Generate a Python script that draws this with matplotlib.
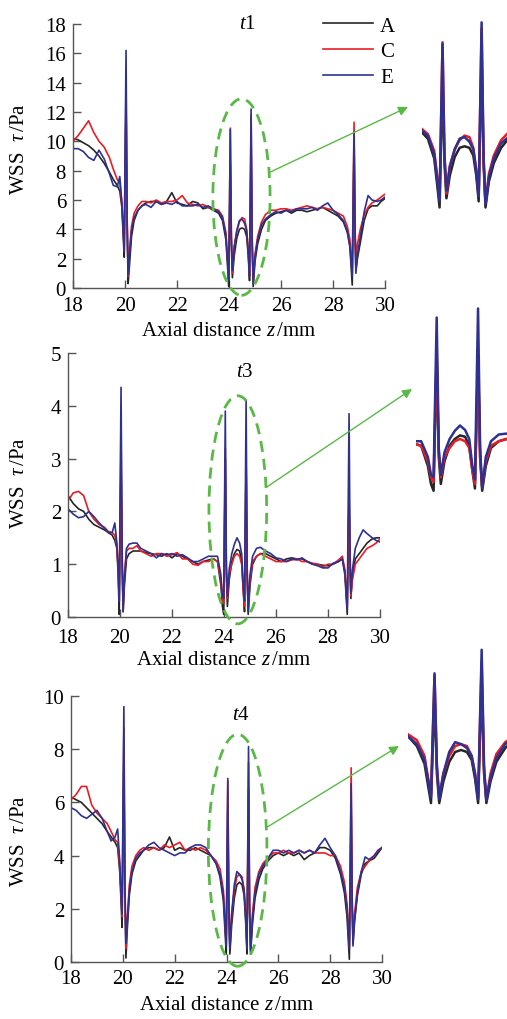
import matplotlib
matplotlib.use("Agg")
import matplotlib.pyplot as plt
from matplotlib.patches import Ellipse

plt.rcParams["font.family"] = ["Liberation Serif", "DejaVu Serif"]
plt.rcParams["mathtext.fontset"] = "custom"
plt.rcParams["mathtext.rm"] = "Liberation Serif"
plt.rcParams["mathtext.it"] = "Liberation Serif:italic"

# Axial positions (mm), shared by all curves
z = [18.0, 18.2, 18.4, 18.6, 18.8, 19.0, 19.2, 19.4, 19.55, 19.7, 19.8, 19.88, 19.93, 19.97,
     20.04, 20.08, 20.12, 20.17, 20.25, 20.35, 20.5, 20.65,
     20.8, 21.0, 21.2, 21.4, 21.6, 21.8, 22.0, 22.2, 22.4, 22.6, 22.8, 23.0, 23.2, 23.4, 23.6,
     23.75, 23.88, 23.94, 23.99, 24.05, 24.09, 24.13, 24.2, 24.3, 24.4, 24.5, 24.6, 24.68,
     24.74, 24.79, 24.85, 24.89, 24.93, 25.0, 25.1, 25.25, 25.4, 25.6,
     25.8, 26.0, 26.2, 26.4, 26.6, 26.8, 27.0, 27.2, 27.4, 27.6, 27.8, 28.0, 28.2, 28.4,
     28.55, 28.65, 28.74, 28.81, 28.85, 28.88, 28.94, 29.05, 29.2, 29.35, 29.5, 29.7, 29.85, 30.0]

# WSS (Pa) at t1
t1_A = [10.2, 10.1, 9.9, 9.7, 9.4, 9.0, 8.5, 7.9, 7.4, 7.0, 6.6, 5.5, 3.6, 2.1,
        12.8, 4.5, 0.3, 1.5, 3.5, 4.6, 5.3, 5.6,
        5.8, 5.9, 5.9, 5.7, 5.9, 6.5, 5.8, 5.7, 5.6, 5.9, 5.8, 5.4, 5.5, 5.3, 5.1,
        4.6, 3.3, 1.6, 0.1, 8.5, 3.0, 0.7, 2.2, 3.4, 4.0, 4.1, 4.0, 3.5,
        2.2, 0.5, 10.0, 3.0, 0.1, 1.8, 3.0, 4.0, 4.6, 4.9,
        5.1, 5.2, 5.3, 5.1, 5.3, 5.3, 5.2, 5.3, 5.4, 5.5, 5.3, 5.1, 4.9, 4.5,
        3.8, 2.8, 0.2, 9.8, 3.5, 1.2, 2.0, 3.1, 4.6, 5.4, 5.6, 5.6, 5.9, 6.1]
t1_C = [10.0, 10.4, 10.9, 11.4, 10.6, 10.0, 9.6, 8.9, 8.1, 7.4, 7.2, 5.8, 4.0, 2.6,
        14.0, 4.8, 0.8, 2.5, 4.2, 5.1, 5.6, 5.9,
        5.9, 5.8, 6.0, 5.8, 5.9, 5.9, 6.0, 6.3, 5.8, 5.7, 5.6, 5.7, 5.5, 5.4, 5.3,
        4.9, 3.8, 2.2, 0.6, 10.9, 3.5, 1.0, 2.8, 3.9, 4.5, 4.8, 4.7, 4.0,
        2.6, 0.9, 11.8, 3.3, 0.4, 2.3, 3.5, 4.5, 5.0, 5.3,
        5.3, 5.4, 5.4, 5.3, 5.4, 5.5, 5.6, 5.5, 5.4, 5.5, 5.4, 5.3, 5.1, 4.9,
        4.2, 3.3, 1.0, 11.3, 4.0, 2.0, 3.0, 4.0, 5.0, 5.5, 5.8, 6.0, 6.2, 6.4]
t1_E = [9.5, 9.5, 9.3, 8.9, 8.7, 9.4, 8.8, 7.8, 7.0, 6.9, 7.6, 5.8, 4.0, 2.5,
        16.2, 5.0, 0.9, 2.2, 3.9, 4.8, 5.3, 5.6,
        5.7, 5.5, 5.9, 5.7, 5.8, 5.7, 5.9, 5.6, 5.6, 5.6, 5.7, 5.5, 5.6, 5.4, 5.2,
        4.8, 3.6, 2.0, 0.5, 10.8, 3.5, 1.2, 2.8, 3.9, 4.6, 4.7, 4.4, 3.9,
        2.5, 0.8, 12.2, 3.5, 0.3, 2.1, 3.3, 4.3, 4.7, 5.0,
        5.2, 5.1, 5.3, 5.2, 5.4, 5.4, 5.4, 5.5, 5.3, 5.6, 5.8, 5.3, 5.0, 4.6,
        3.9, 2.9, 0.8, 10.6, 3.8, 1.0, 2.3, 3.5, 5.2, 6.3, 6.0, 5.9, 6.0, 6.2]

# WSS (Pa) at t3
t3_A = [2.3, 2.15, 2.05, 2.0, 1.85, 1.75, 1.7, 1.65, 1.6, 1.55, 1.45, 1.3, 0.8, 0.05,
        3.0, 1.0, 0.1, 0.6, 1.1, 1.2, 1.25, 1.25,
        1.25, 1.22, 1.2, 1.18, 1.15, 1.2, 1.12, 1.2, 1.15, 1.1, 1.05, 1.0, 1.05, 1.08, 1.1,
        1.05, 0.6, 0.2, 0.05, 3.0, 0.8, 0.2, 0.7, 1.05, 1.2, 1.28, 1.25, 1.05,
        0.5, 0.1, 3.0, 0.8, 0.05, 0.6, 1.0, 1.15, 1.2, 1.2,
        1.15, 1.1, 1.05, 1.1, 1.12, 1.1, 1.1, 1.05, 1.0, 1.0, 0.98, 0.97, 1.0, 1.05,
        1.1, 0.8, 0.05, 2.3, 0.8, 0.35, 0.8, 1.1, 1.2, 1.3, 1.4, 1.48, 1.5, 1.5]
t3_C = [2.2, 2.35, 2.38, 2.3, 2.0, 1.85, 1.75, 1.7, 1.62, 1.6, 1.55, 1.35, 0.9, 0.3,
        3.5, 1.1, 0.2, 0.8, 1.25, 1.3, 1.3, 1.35,
        1.25, 1.2, 1.15, 1.2, 1.2, 1.15, 1.18, 1.22, 1.1, 1.1, 1.0, 0.98, 1.05, 1.05, 1.1,
        1.05, 0.7, 0.35, 0.25, 3.2, 0.9, 0.35, 0.8, 1.0, 1.15, 1.2, 1.15, 1.0,
        0.5, 0.2, 3.0, 0.8, 0.15, 0.7, 1.05, 1.15, 1.2, 1.15,
        1.1, 1.05, 1.05, 1.05, 1.08, 1.1, 1.05, 1.05, 1.02, 1.0, 0.95, 1.0, 1.0, 1.08,
        1.15, 0.9, 0.2, 2.4, 0.9, 0.4, 0.7, 1.0, 1.1, 1.2, 1.3, 1.35, 1.4, 1.48]
t3_E = [2.05, 1.95, 1.88, 1.9, 2.0, 1.9, 1.78, 1.68, 1.6, 1.6, 1.78, 1.4, 0.9, 0.3,
        4.35, 1.4, 0.1, 0.7, 1.3, 1.38, 1.4, 1.4,
        1.3, 1.25, 1.2, 1.12, 1.2, 1.18, 1.2, 1.15, 1.18, 1.12, 1.05, 1.05, 1.1, 1.15, 1.15,
        1.15, 0.8, 0.4, 0.35, 3.9, 1.0, 0.4, 0.9, 1.2, 1.38, 1.5, 1.4, 1.2,
        0.6, 0.3, 4.1, 1.0, 0.1, 0.8, 1.15, 1.3, 1.32, 1.25,
        1.2, 1.12, 1.1, 1.05, 1.1, 1.08, 1.12, 1.05, 1.0, 0.97, 0.93, 0.93, 1.02, 1.05,
        1.1, 0.85, 0.15, 3.85, 1.2, 0.45, 0.9, 1.3, 1.5, 1.65, 1.58, 1.5, 1.45, 1.42]

# WSS (Pa) at t4
t4_A = [6.2, 6.1, 6.0, 5.8, 5.6, 5.4, 5.2, 4.9, 4.7, 4.5, 4.3, 3.4, 2.3, 1.3,
        7.5, 2.5, 0.15, 1.2, 2.5, 3.3, 3.8, 4.0,
        4.2, 4.3, 4.3, 4.2, 4.3, 4.7, 4.2, 4.3, 4.2, 4.2, 4.3, 4.2, 4.1, 4.0, 3.7,
        3.2, 2.3, 1.2, 0.3, 5.8, 1.8, 0.3, 1.4, 2.4, 2.9, 3.0, 2.9, 2.5,
        1.5, 0.3, 6.5, 1.8, 0.3, 1.4, 2.4, 3.1, 3.5, 3.8,
        4.0, 4.1, 4.0, 4.1, 4.0, 4.1, 3.85, 4.0, 4.1, 4.3, 4.3, 4.2, 3.9, 3.3,
        2.6, 1.7, 0.1, 5.8, 2.0, 0.7, 1.5, 2.5, 3.3, 3.7, 3.8, 3.9, 4.1, 4.3]
t4_C = [6.1, 6.3, 6.6, 6.6, 5.9, 5.6, 5.4, 5.2, 4.9, 4.6, 4.5, 3.6, 2.6, 1.7,
        8.8, 2.7, 0.5, 1.6, 2.9, 3.6, 4.0, 4.2,
        4.3, 4.2, 4.3, 4.2, 4.4, 4.3, 4.4, 4.5, 4.2, 4.3, 4.2, 4.3, 4.2, 4.0, 3.8,
        3.5, 2.7, 1.6, 0.7, 6.8, 2.2, 0.6, 1.8, 2.7, 3.2, 3.3, 3.2, 2.7,
        1.8, 0.6, 7.5, 2.0, 0.5, 1.8, 2.8, 3.4, 3.7, 3.9,
        4.1, 4.1, 4.2, 4.1, 4.1, 4.2, 4.1, 4.2, 4.1, 4.1, 4.1, 4.0, 4.0, 3.6,
        3.0, 2.2, 0.6, 7.3, 2.4, 1.0, 1.8, 2.8, 3.4, 3.6, 3.8, 4.0, 4.2, 4.3]
t4_E = [5.8, 5.7, 5.5, 5.4, 5.55, 5.7, 5.4, 4.9, 4.55, 4.7, 5.0, 3.8, 2.6, 1.8,
        9.6, 3.0, 0.7, 1.5, 2.7, 3.4, 3.9, 4.1,
        4.2, 4.4, 4.5, 4.3, 4.2, 4.1, 4.0, 4.1, 4.1, 4.3, 4.4, 4.4, 4.3, 4.0, 3.7,
        3.3, 2.5, 1.5, 0.6, 6.9, 2.2, 0.5, 1.8, 2.9, 3.4, 3.3, 3.1, 2.7,
        1.7, 0.5, 8.1, 2.2, 0.4, 1.6, 2.6, 3.3, 3.6, 3.9,
        4.2, 4.2, 4.1, 4.2, 4.1, 4.2, 4.1, 4.2, 4.1, 4.4, 4.65, 4.3, 4.0, 3.4,
        2.8, 2.0, 0.5, 6.7, 2.2, 0.6, 1.6, 2.6, 3.4, 3.95, 3.85, 4.0, 4.2, 4.3]

labels = ["A", "C", "E"]
colors = ["#262626", "#ec1c24", "#2e3192"]
green = "#5ab946"

W, H = 507, 1020
fig = plt.figure(figsize=(W / 100, H / 100), dpi=100)


def px_rect(x0, x1, ytop, ybot):
    # pixel box -> figure fraction [left, bottom, width, height]
    return [x0 / W, 1 - ybot / H, (x1 - x0) / W, (ybot - ytop) / H]


panels = [
    dict(series=[t1_A, t1_C, t1_E], title=r"$t$1", ymax=18, ystep=2,
         box=(73, 385, 25, 289), title_pos=(0.56, 1.0), xpad=6, ylab_y=0.53,
         ell=(24.48, 6.2, 2.2, 13.4), arrow=((25.58, 7.9), (408, 1020 - 108)),
         inset=(422, 507, 5, 210), ixlim=(23.63, 25.37), iylim=(0, 13.4)),
    dict(series=[t3_A, t3_C, t3_E], title=r"$t$3", ymax=5, ystep=1,
         box=(68, 380, 354, 618), title_pos=(0.567, 0.93), xpad=8, ylab_y=0.51,
         ell=(24.53, 2.03, 2.22, 4.32), arrow=((25.64, 2.46), (412, 1020 - 390)),
         inset=(416, 507, 305, 494), ixlim=(23.65, 25.41), iylim=(0, 4.2)),
    dict(series=[t4_A, t4_C, t4_E], title=r"$t$4", ymax=10, ystep=2,
         box=(71, 382, 697, 963), title_pos=(0.545, 0.93), xpad=5, ylab_y=0.46,
         ell=(24.43, 4.2, 2.26, 8.72), arrow=((25.55, 5.06), (399, 1020 - 747)),
         inset=(408, 507, 635, 810), ixlim=(23.6, 25.28), iylim=(0, 8.9)),
]

for i, p in enumerate(panels):
    ax = fig.add_axes(px_rect(*p["box"]))
    for vals, lab, col in zip(p["series"], labels, colors):
        ax.plot(z, vals, color=col, lw=1.2, label=lab)
    ax.set_xlim(18, 30)
    ax.set_ylim(0, p["ymax"])
    ax.set_xticks(range(18, 31, 2))
    ax.set_yticks(range(0, p["ymax"] + 1, p["ystep"]))
    for s in ["top", "right"]:
        ax.spines[s].set_visible(False)
    for s in ["left", "bottom"]:
        ax.spines[s].set_color("#555555")
        ax.spines[s].set_linewidth(1.0)
    ax.tick_params(direction="in", length=6, width=1.0, color="#555555", labelsize=15)
    ax.tick_params(axis="x", pad=p["xpad"])
    ax.tick_params(axis="y", pad=5)
    ax.set_xlabel(r"Axial distance $z\,$/mm", fontsize=15)
    ax.set_ylabel(r"WSS  $\tau\,$/Pa", fontsize=15)
    # right edge of the rotated label sits ~28 px from the figure's left edge
    x0 = p["box"][0]
    ax.yaxis.set_label_coords((29 - x0) / (p["box"][1] - x0), p["ylab_y"])
    ax.xaxis.set_label_coords(0.5, -0.125)
    ax.text(p["title_pos"][0], p["title_pos"][1], p["title"], transform=ax.transAxes,
            ha="center", va="center", fontsize=15)

    ex, ey, ew, eh = p["ell"]
    ax.add_patch(Ellipse((ex, ey), ew, eh, fill=False, ec=green, lw=2.0,
                         ls=(0, (4, 2.5)), clip_on=False, zorder=5))
    ax.annotate("", xy=p["arrow"][1], xycoords="figure pixels",
                xytext=p["arrow"][0], textcoords="data",
                arrowprops=dict(arrowstyle="-|>", color=green, lw=1.0,
                                mutation_scale=14, shrinkA=0, shrinkB=0),
                annotation_clip=False)

    if i == 0:
        ax.legend(loc="upper left", bbox_to_anchor=(323 / W, 1 - 17 / H),
                  bbox_transform=fig.transFigure, frameon=False, fontsize=15,
                  handlelength=2.4, handletextpad=0.35, labelspacing=0.3,
                  borderpad=0, borderaxespad=0)

    # zoomed view of the two central spikes
    axi = fig.add_axes(px_rect(*p["inset"]))
    for vals, col in zip(p["series"], colors):
        axi.plot(z, vals, color=col, lw=1.8)
    axi.set_xlim(*p["ixlim"])
    axi.set_ylim(*p["iylim"])
    axi.axis("off")

fig.savefig("out.png", dpi=100)
